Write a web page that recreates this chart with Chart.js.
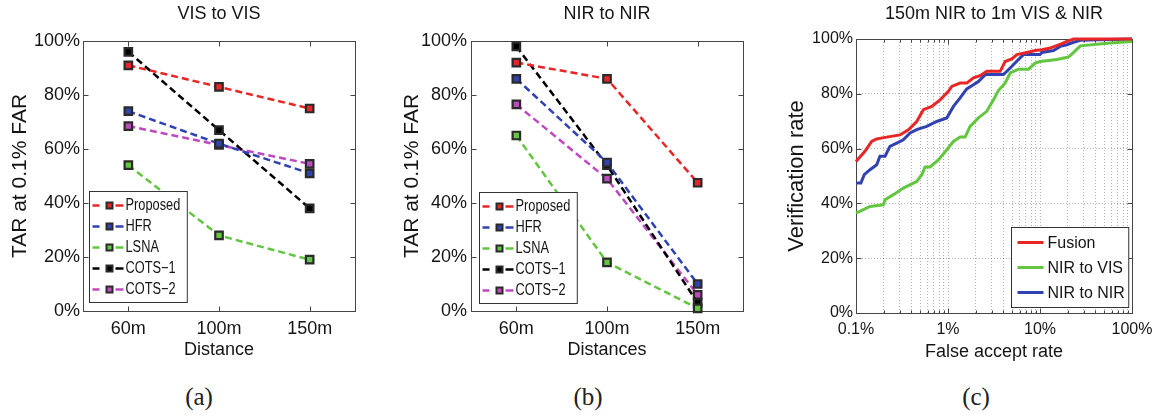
<!DOCTYPE html>
<html><head><meta charset="utf-8">
<script src="https://cdn.jsdelivr.net/npm/chart.js@4/dist/chart.umd.min.js"></script>
<style>
html,body{margin:0;padding:0;background:#fff;width:1161px;height:415px;overflow:hidden;position:relative}
canvas{position:absolute;top:0}
.cap{position:absolute;font-family:'Liberation Serif','DejaVu Serif',serif;font-size:25px;color:#222;transform:translate(-50%,-50%);white-space:nowrap}
</style></head><body>
<canvas id="ca" width="390" height="361" style="left:0px;width:390px;height:361px"></canvas>
<canvas id="cb" width="380" height="361" style="left:390px;width:380px;height:361px"></canvas>
<canvas id="cc" width="381" height="363" style="left:780px;width:381px;height:363px"></canvas>
<div class="cap" style="left:199px;top:397px">(a)</div>
<div class="cap" style="left:588px;top:397px">(b)</div>
<div class="cap" style="left:976px;top:397px">(c)</div>
<script>
// ---------- data ----------
const distances = ['60m', '100m', '150m'];
const seriesNames = ['Proposed', 'HFR', 'LSNA', 'COTS\u22121', 'COTS\u22122'];
// (a) VIS to VIS, TAR (%) at 0.1% FAR
const visProposed = [91, 83, 75];
const visHFR = [74, 62, 51];
const visLSNA = [54, 28, 19];
const visCOTS1 = [96, 67, 38];
const visCOTS2 = [68.5, 61.5, 54.5];
// (b) NIR to NIR
const nirProposed = [92, 86, 47.5];
const nirHFR = [86, 55, 10];
const nirLSNA = [65, 18, 1];
const nirCOTS1 = [98, 54, 3];
const nirCOTS2 = [76.5, 49, 6];
// (c) ROC curves: false accept rate (fraction) and verification rate (%)
const fusionFar = [0.001, 0.00125, 0.00148, 0.00168, 0.002, 0.00301, 0.00371, 0.00457, 0.0054, 0.00667, 0.0082, 0.0101, 0.011, 0.01355, 0.016, 0.0189, 0.0223, 0.0264, 0.0369, 0.0418, 0.0494, 0.0561, 0.072, 0.0887, 0.105, 0.129, 0.173, 0.196, 0.232, 1.0];
const fusionRate = [55.3, 59, 62.6, 63.5, 64, 65, 66.9, 69.9, 74.2, 75.4, 77.8, 80.9, 82.7, 83.9, 83.9, 85.8, 86.6, 88.2, 88.2, 91.8, 92.7, 94.3, 95.1, 95.8, 96.1, 96.7, 98.3, 99.1, 100, 100];
const nirVisFar = [0.001, 0.0011, 0.00142, 0.00198, 0.00207, 0.00255, 0.00327, 0.0042, 0.00457, 0.00519, 0.00564, 0.00638, 0.00787, 0.0097, 0.01146, 0.01355, 0.01535, 0.0174, 0.0214, 0.0264, 0.0312, 0.0353, 0.0418, 0.0474, 0.0583, 0.075, 0.0887, 0.1, 0.153, 0.204, 0.232, 0.274, 0.58, 1.0];
const nirVisRate = [36.5, 37.1, 38.9, 39.5, 41.3, 43.2, 45.6, 47.4, 48, 50.5, 53.3, 53.3, 55.9, 59.6, 62.6, 64.2, 64.2, 68.1, 71.2, 73.6, 77.8, 81.2, 83.9, 87.6, 89, 89, 91.2, 91.8, 92.5, 93.4, 95.1, 97.5, 98.5, 99.1];
const nirNirFar = [0.001, 0.00113, 0.00123, 0.00142, 0.00168, 0.00182, 0.00207, 0.00234, 0.00277, 0.00327, 0.00387, 0.00457, 0.00587, 0.00755, 0.0097, 0.01146, 0.01355, 0.016, 0.0189, 0.0214, 0.0254, 0.0401, 0.0474, 0.0583, 0.0661, 0.1, 0.105, 0.14, 0.166, 0.196, 0.232, 0.274, 0.58, 1.0];
const nirNirRate = [47.4, 47.4, 50.5, 52.3, 54.1, 57.2, 57.2, 60.8, 62, 63.2, 65.7, 66.9, 68.1, 69.9, 71.2, 75.4, 78.5, 81.8, 83.3, 84.5, 87, 87, 89.4, 92.5, 94.3, 94.3, 95.1, 95.8, 97.3, 97.9, 98.8, 99.5, 99.8, 100];
// tick definitions
const farGridTicks = [0.001,0.002,0.003,0.004,0.005,0.006,0.007,0.008,0.009,0.01,0.02,0.03,0.04,0.05,0.06,0.07,0.08,0.09,0.1,0.2,0.3,0.4,0.5,0.6,0.7,0.8,0.9,1];
const farMajorTicks = [0.001, 0.01, 0.1, 1];
const farMajorLabels = ['0.1%', '1%', '10%', '100%'];

// ---------- styles ----------
const FONT = "'Liberation Sans', Arial, Helvetica, sans-serif";
const TXT = '#151515';
const RED = 'rgb(232,38,38)', BLUE = 'rgb(48,66,178)', GREEN = 'rgb(98,198,64)', BLACK = '#000', MAG = 'rgb(192,72,192)';
const colors = [RED, BLUE, GREEN, BLACK, MAG];

function dashedSet(values) {
  return values.map((v, i) => ({
    label: seriesNames[i], data: v, borderColor: colors[i], borderWidth: 2.5, borderDash: [7, 4],
    pointStyle: 'rect', pointRadius: 5.3, pointBackgroundColor: colors[i], pointBorderColor: '#2a2a2a',
    pointBorderWidth: 2.2, fill: false, tension: 0, clip: 8
  }));
}

const framePlugin = {
  id: 'frame',
  beforeDatasetsDraw(chart, args, o) {
    const ctx = chart.ctx, ca = chart.chartArea;
    ctx.save();
    ctx.strokeStyle = o.color || '#444';
    ctx.lineWidth = 1;
    const L = Math.round(ca.left) + 0.5, R = Math.round(ca.right) + 0.5, T = Math.round(ca.top) + 0.5, B = Math.round(ca.bottom) + 0.5;
    ctx.beginPath();
    const xs = chart.scales.x, ys = chart.scales.y;
    xs.ticks.forEach((t, i) => {
      const p = Math.round(xs.getPixelForTick(i)) + 0.5;
      if (p <= L + 1 || p >= R - 1) return;
      const len = (t.label === '' ? (o.minor || 3) : (o.len || 5));
      ctx.moveTo(p, B); ctx.lineTo(p, B - len);
      ctx.moveTo(p, T); ctx.lineTo(p, T + len);
    });
    ys.ticks.forEach((t, i) => {
      const p = Math.round(ys.getPixelForTick(i)) + 0.5;
      if (p <= T + 1 || p >= B - 1) return;
      const len = o.len || 5;
      ctx.moveTo(L, p); ctx.lineTo(L + len, p);
      ctx.moveTo(R, p); ctx.lineTo(R - len, p);
    });
    ctx.stroke();
    ctx.strokeRect(L, T, R - L, B - T);
    ctx.restore();
  }
};

const boxLegend = {
  id: 'boxLegend',
  afterDraw(chart, args, o) {
    const ctx = chart.ctx, ca = chart.chartArea, ds = chart.data.datasets;
    ctx.save();
    ctx.font = o.font;
    const tw = Math.max(...ds.map(d => ctx.measureText(d.label).width * o.sx));
    const w = o.textX + tw + o.padR;
    const h = o.padT + o.rowH * (ds.length - 1) + o.padB;
    const left = Math.round(o.anchor === 'right' ? ca.right - o.dx - w : ca.left + o.dx) + 0.5;
    const top = Math.round(ca.bottom - o.dy - h) + 0.5;
    ctx.fillStyle = '#fff';
    ctx.fillRect(left, top, w, h);
    ctx.strokeStyle = '#333'; ctx.lineWidth = 1;
    ctx.strokeRect(left, top, w, h);
    ds.forEach((d, i) => {
      const y = top + o.padT + i * o.rowH;
      ctx.strokeStyle = d.borderColor; ctx.lineWidth = d.borderWidth;
      ctx.beginPath();
      o.segs.forEach(s => { ctx.moveTo(left + s[0], y); ctx.lineTo(left + s[1], y); });
      ctx.stroke();
      if (o.markerX) {
        const s = 4;
        ctx.fillStyle = d.pointBorderColor;
        ctx.fillRect(left + o.markerX - s, y - s, 2 * s, 2 * s);
        ctx.fillStyle = d.pointBackgroundColor;
        ctx.fillRect(left + o.markerX - s + 2, y - s + 2, 2 * s - 4, 2 * s - 4);
      }
      ctx.fillStyle = TXT;
      ctx.textBaseline = 'middle'; ctx.textAlign = 'left';
      ctx.save();
      ctx.translate(left + o.textX, y + 0.5);
      ctx.scale(o.sx, 1);
      ctx.fillText(d.label, 0, 0);
      ctx.restore();
    });
    ctx.restore();
  }
};

function distanceChart(id, title, xTitle, values, layout) {
  return new Chart(document.getElementById(id), {
    type: 'line',
    data: { labels: distances, datasets: dashedSet(values) },
    plugins: [framePlugin, boxLegend],
    options: {
      responsive: false, animation: false, devicePixelRatio: 1,
      layout: { padding: { left: 0, right: layout.right, top: 0, bottom: 0 } },
      plugins: {
        legend: { display: false }, tooltip: { enabled: false },
        title: { display: true, text: title, color: TXT, font: { family: FONT, size: 18, weight: 'normal' },
          padding: { top: 3, bottom: 16.4 }, fullSize: false },
        frame: { color: '#444', len: 5 },
        boxLegend: { font: '16px ' + FONT, sx: 0.8, textX: 36, padR: 7, padT: 14, rowH: 21, padB: 13,
          anchor: 'left', dx: layout.legDx, dy: layout.legDy, segs: [[3, 10], [26, 34]], markerX: 20 }
      },
      scales: {
        x: {
          type: 'category', offset: true,
          grid: { display: false, drawTicks: false }, border: { display: false },
          ticks: { color: TXT, font: { family: FONT, size: 18 }, padding: 7, maxRotation: 0 },
          title: { display: true, text: xTitle, color: TXT, font: { family: FONT, size: 18 }, padding: { top: 0, bottom: 0 } },
          afterFit: s => { s.height = 50; }
        },
        y: {
          min: 0, max: 100,
          grid: { display: false, drawTicks: false }, border: { display: false },
          ticks: { stepSize: 20, color: TXT, font: { family: FONT, size: 18 }, padding: layout.tickPad, callback: v => v + '%' },
          title: { display: true, text: 'TAR at 0.1% FAR', color: TXT, font: { family: FONT, size: 21 }, padding: { top: layout.titlePad, bottom: 0 } },
          afterFit: s => { s.width = layout.yWidth; }
        }
      }
    }
  });
}

distanceChart('ca', 'VIS to VIS', 'Distance', [visProposed, visHFR, visLSNA, visCOTS1, visCOTS2],
  { right: 35, yWidth: 83, tickPad: 3, titlePad: 7.4, legDx: 6, legDy: 9 });
distanceChart('cb', 'NIR to NIR', 'Distances', [nirProposed, nirHFR, nirLSNA, nirCOTS1, nirCOTS2],
  { right: 27, yWidth: 81, tickPad: 4, titlePad: 9.4, legDx: 8, legDy: 8 });

function rocSet(label, far, rate, color) {
  return { label, data: far.map((x, i) => ({ x, y: rate[i] })), borderColor: color, borderWidth: 3,
    pointRadius: 0, fill: false, tension: 0, clip: 4 };
}

new Chart(document.getElementById('cc'), {
  type: 'line',
  data: { datasets: [
    rocSet('Fusion', fusionFar, fusionRate, RED),
    rocSet('NIR to VIS', nirVisFar, nirVisRate, GREEN),
    rocSet('NIR to NIR', nirNirFar, nirNirRate, BLUE)
  ] },
  plugins: [framePlugin, boxLegend],
  options: {
    responsive: false, animation: false, devicePixelRatio: 1,
    layout: { padding: { left: 0, right: 29, top: 0, bottom: 0 } },
    plugins: {
      legend: { display: false }, tooltip: { enabled: false },
      title: { display: true, text: '150m NIR to 1m VIS & NIR', color: TXT, font: { family: FONT, size: 18, weight: 'normal' },
        padding: { top: 3, bottom: 14.4 }, fullSize: false },
      frame: { color: '#444', len: 5, minor: 3 },
      boxLegend: { font: '17px ' + FONT, sx: 0.94, textX: 36, padR: 4, padT: 15, rowH: 25, padB: 15,
        anchor: 'right', dx: 4, dy: 6, segs: [[6, 32]], markerX: 0 }
    },
    scales: {
      x: {
        type: 'logarithmic', min: 0.001, max: 1,
        grid: { color: 'rgba(0,0,0,0.3)', lineWidth: 1, drawTicks: false },
        border: { display: false, dash: [1, 2] },
        afterBuildTicks: s => { s.ticks = farGridTicks.map(v => ({ value: v })); },
        ticks: { autoSkip: false, maxRotation: 0, minRotation: 0, color: TXT, font: { family: FONT, size: 16 }, padding: 7,
          callback: v => { const k = farMajorTicks.findIndex(m => Math.abs(v - m) / m < 1e-6); return k >= 0 ? farMajorLabels[k] : ''; } },
        title: { display: true, text: 'False accept rate', color: TXT, font: { family: FONT, size: 18 }, padding: { top: 0, bottom: 0 } },
        afterFit: s => { s.height = 50; }
      },
      y: {
        min: 0, max: 100,
        grid: { color: 'rgba(0,0,0,0.3)', lineWidth: 1, drawTicks: false },
        border: { display: false, dash: [1, 2] },
        ticks: { stepSize: 20, color: TXT, font: { family: FONT, size: 16 }, padding: 3, callback: v => v + '%' },
        title: { display: true, text: 'Verification rate', color: TXT, font: { family: FONT, size: 22 }, padding: { top: 3.8, bottom: 0 } },
        afterFit: s => { s.width = 76; }
      }
    }
  }
});
</script>
</body></html>
